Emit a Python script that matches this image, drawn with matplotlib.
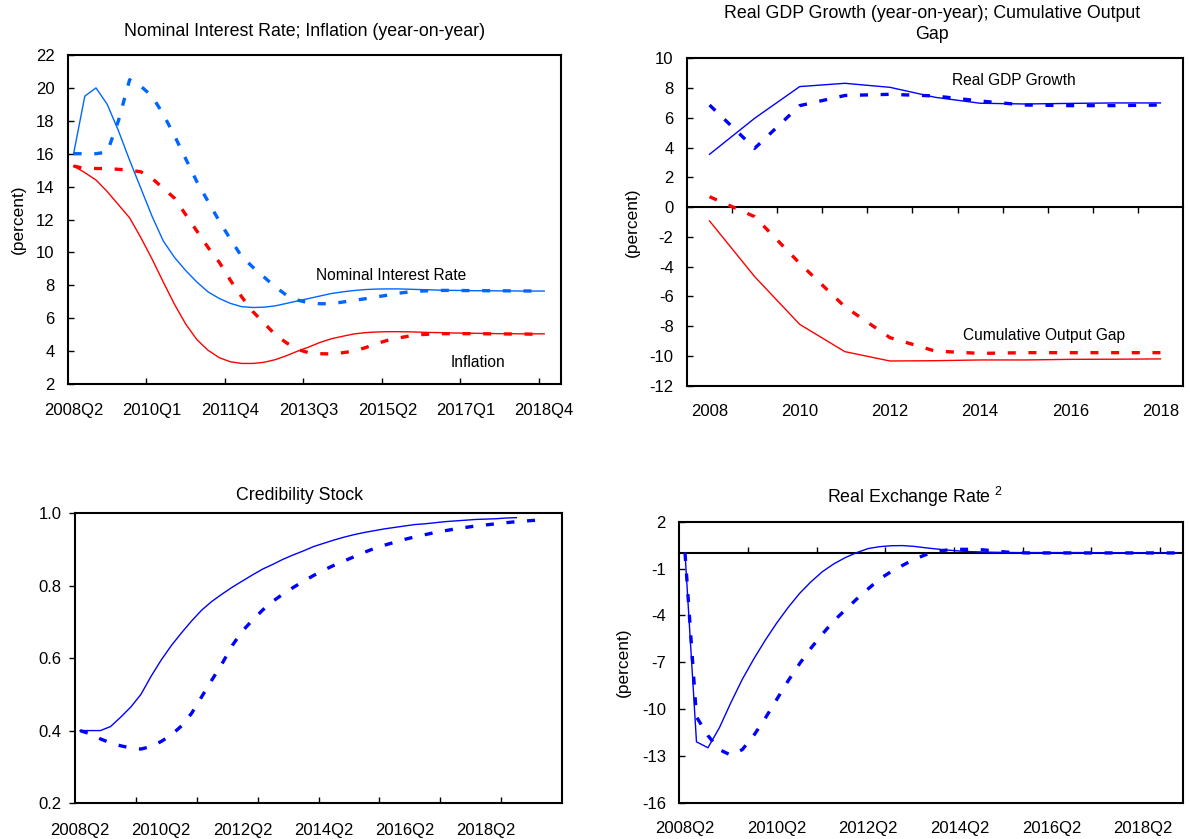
import numpy as np
import matplotlib
matplotlib.use('Agg')
import matplotlib.pyplot as plt
from matplotlib.ticker import NullFormatter, FormatStrFormatter

plt.rcParams['font.family'] = ['Liberation Sans', 'DejaVu Sans']
plt.rcParams['mathtext.default'] = 'regular'
plt.rcParams['axes.unicode_minus'] = False
plt.rcParams['font.size'] = 12

# --- top left: nominal interest rate / inflation (quarterly, 2008Q2-2018Q4)
tl_labels = ['2008Q2', '2010Q1', '2011Q4', '2013Q3', '2015Q2', '2017Q1', '2018Q4']
nir_base = [16.0, 19.5, 20.0, 19.0, 17.4, 15.6, 13.9, 12.2, 10.7, 9.7, 8.9, 8.2, 7.6, 7.2, 6.9,
            6.7, 6.65, 6.67, 6.75, 6.9, 7.05, 7.2, 7.35, 7.5, 7.6, 7.68, 7.74, 7.77, 7.78, 7.78,
            7.76, 7.74, 7.72, 7.7, 7.69, 7.68, 7.67, 7.67, 7.66, 7.66, 7.65, 7.65, 7.65]
nir_alt = [16.0, 16.0, 16.0, 16.1, 18.0, 20.5, 20.1, 19.5, 18.4, 17.1, 15.7, 14.3, 13.1, 11.9, 10.8,
           9.75, 9.1, 8.5, 7.9, 7.4, 7.1, 6.93, 6.88, 6.88, 6.98, 7.08, 7.18, 7.29, 7.4, 7.52,
           7.6, 7.65, 7.68, 7.69, 7.69, 7.68, 7.68, 7.67, 7.67, 7.66, 7.66, 7.65, 7.65]
inf_base = [15.25, 14.85, 14.4, 13.7, 12.9, 12.1, 10.9, 9.6, 8.2, 6.85, 5.65, 4.7, 4.05, 3.6, 3.35,
            3.25, 3.25, 3.32, 3.48, 3.72, 4.0, 4.25, 4.53, 4.75, 4.9, 5.04, 5.12, 5.16, 5.18, 5.18,
            5.17, 5.15, 5.13, 5.12, 5.1, 5.09, 5.08, 5.07, 5.06, 5.06, 5.05, 5.05, 5.05]
inf_alt = [15.25, 15.1, 15.1, 15.1, 15.05, 15.0, 14.9, 14.5, 13.9, 13.3, 12.3, 11.3, 10.3, 9.4, 8.3,
           7.3, 6.4, 5.7, 5.0, 4.5, 4.1, 3.9, 3.84, 3.83, 3.9, 4.0, 4.2, 4.45, 4.65, 4.8,
           4.92, 5.0, 5.04, 5.06, 5.06, 5.06, 5.06, 5.05, 5.05, 5.04, 5.04, 5.03, 5.03]

# --- top right: real GDP growth / cumulative output gap (annual)
years = [2008, 2009, 2010, 2011, 2012, 2013, 2014, 2015, 2016, 2017, 2018]
gdp_base = [3.55, 5.97, 8.1, 8.32, 8.05, 7.38, 6.98, 6.93, 6.97, 7.0, 7.0]
gdp_alt = [6.86, 3.95, 6.82, 7.5, 7.58, 7.47, 7.13, 6.86, 6.82, 6.82, 6.86]
gap_base = [-0.93, -4.67, -7.88, -9.71, -10.34, -10.32, -10.27, -10.27, -10.23, -10.22, -10.2]
gap_alt = [0.7, -0.64, -3.78, -6.69, -8.77, -9.67, -9.83, -9.78, -9.78, -9.78, -9.78]

# --- bottom left: credibility stock (quarterly from 2008Q2)
bot_labels = ['2008Q2', '2010Q2', '2012Q2', '2014Q2', '2016Q2', '2018Q2']
cred_base = [0.40, 0.40, 0.40, 0.411, 0.437, 0.465, 0.50, 0.55, 0.595, 0.635, 0.67, 0.703, 0.733,
             0.757, 0.777, 0.796, 0.813, 0.83, 0.846, 0.859, 0.873, 0.885, 0.896, 0.908, 0.917,
             0.926, 0.934, 0.941, 0.947, 0.952, 0.957, 0.961, 0.965, 0.969, 0.971, 0.974, 0.977,
             0.979, 0.981, 0.983, 0.984, 0.985, 0.987, 0.988]
cred_alt = [0.40, 0.391, 0.377, 0.366, 0.358, 0.352, 0.349, 0.356, 0.37, 0.388, 0.413, 0.448, 0.494,
            0.54, 0.585, 0.635, 0.675, 0.705, 0.733, 0.757, 0.777, 0.795, 0.812, 0.828, 0.843,
            0.856, 0.868, 0.880, 0.892, 0.903, 0.912, 0.92, 0.928, 0.935, 0.941, 0.947, 0.952,
            0.957, 0.961, 0.965, 0.968, 0.971, 0.974, 0.977, 0.979, 0.981, 0.983]

# --- bottom right: real exchange rate (quarterly from 2008Q2)
rer_base = [0.0, -12.1, -12.48, -11.2, -9.6, -8.1, -6.8, -5.6, -4.5, -3.5, -2.6, -1.85, -1.2,
            -0.7, -0.3, 0.02, 0.28, 0.4, 0.46, 0.47, 0.42, 0.33, 0.25, 0.18, 0.12, 0.08, 0.06,
            0.04, 0.03, 0.02, 0.02, 0.02, 0.02, 0.02, 0.02, 0.02, 0.01, 0.01, 0.01, 0.01, 0.01,
            0.0, 0.0, 0.0]
rer_alt = [0.0, -10.5, -11.7, -12.6, -12.95, -12.6, -11.7, -10.6, -9.4, -8.2, -7.1, -6.1, -5.2,
           -4.35, -3.65, -2.95, -2.3, -1.67, -1.2, -0.8, -0.41, -0.12, 0.1, 0.2, 0.23, 0.23, 0.2,
           0.13, 0.06, 0.02, 0.0, 0.0, 0.0, 0.0, 0.0, 0.0, 0.0, 0.0, 0.0, 0.0, 0.0, 0.0, 0.0, 0.0]

BLUE = '#0000FF'
LBLUE = '#0066FF'
RED = '#FF0000'
DASH = (0, (2.4, 3.8))
W, H = 1190, 839
TITLE_FS = 12.8
NOTE_FS = 11.2

fig = plt.figure(figsize=(W / 100, H / 100), dpi=100)


def px(x, y):
    return x / W, 1 - y / H


def box(x0, y0, x1, y1):
    # axes rectangle from pixel corners
    return [x0 / W, 1 - y1 / H, (x1 - x0) / W, (y1 - y0) / H]


def frame(ax, ydir='in', xpad=13.5):
    for s in ax.spines.values():
        s.set_linewidth(1.5)
    ax.tick_params(axis='y', direction=ydir, length=4, width=1,
                   pad=9.7 if ydir == 'in' else 5.7)
    ax.tick_params(axis='x', which='major', length=0, pad=xpad)
    ax.tick_params(axis='x', which='minor', direction='in', length=4, width=1)


def zero_axis(ax, frac, ticks, direction):
    sec = ax.secondary_xaxis(frac)
    sec.set_xticks(ticks)
    sec.xaxis.set_major_formatter(NullFormatter())
    sec.tick_params(direction=direction, length=4, width=1)
    for s in sec.spines.values():
        s.set_linewidth(1.5)


# top left
ax1 = fig.add_axes(box(68, 55, 561, 384))
x1 = np.arange(len(nir_base))
ax1.plot(x1, nir_base, color=LBLUE, lw=1)
ax1.plot(x1, nir_alt, color=LBLUE, lw=2.4, ls=DASH)
ax1.plot(x1, inf_base, color=RED, lw=1)
ax1.plot(x1, inf_alt, color=RED, lw=2.4, ls=DASH)
ax1.set_xlim(-0.5, 43.5)
ax1.set_ylim(2, 22)
ax1.set_yticks(np.arange(2, 23, 2))
ax1.set_xticks(np.arange(0, 43, 7), tl_labels)
ax1.set_xticks(np.arange(6.5, 42, 7), minor=True)
frame(ax1)
ax1.set_ylabel('(percent)', fontsize=12.5)
ax1.yaxis.set_label_coords(-0.085, 0.5)
ax1.text(28.3, 8.57, 'Nominal Interest Rate', ha='center', va='center', fontsize=NOTE_FS)
ax1.text(36.1, 3.28, 'Inflation', ha='center', va='center', fontsize=NOTE_FS)
fig.text(*px(305, 31), 'Nominal Interest Rate; Inflation (year-on-year)',
         ha='center', va='center', fontsize=TITLE_FS)

# top right
ax2 = fig.add_axes(box(687, 58.3, 1183, 385.7))
ax2.plot(years, gdp_base, color=BLUE, lw=1)
ax2.plot(years, gdp_alt, color=BLUE, lw=2.4, ls=DASH)
ax2.plot(years, gap_base, color=RED, lw=1)
ax2.plot(years, gap_alt, color=RED, lw=2.4, ls=DASH)
ax2.set_xlim(2007.5, 2018.5)
ax2.set_ylim(-12, 10)
ax2.set_yticks(np.arange(-12, 11, 2))
ax2.set_xticks(years[::2])
frame(ax2)
zero_axis(ax2, 12 / 22, np.arange(2008.5, 2018, 1), 'in')
ax2.set_ylabel('(percent)', fontsize=12.5)
ax2.yaxis.set_label_coords(-0.095, 0.5)
ax2.text(2014.76, 8.49, 'Real GDP Growth', ha='center', va='center', fontsize=NOTE_FS)
ax2.text(2015.41, -8.6, 'Cumulative Output Gap', ha='center', va='center', fontsize=NOTE_FS)
fig.text(*px(932, 24), 'Real GDP Growth (year-on-year); Cumulative Output\nGap',
         ha='center', va='center', multialignment='center', linespacing=1.3, fontsize=TITLE_FS)

# bottom left
ax3 = fig.add_axes(box(75, 513.3, 562, 803))
ax3.plot(np.arange(len(cred_base)), cred_base, color=BLUE, lw=1)
ax3.plot(np.arange(len(cred_alt)), cred_alt, color=BLUE, lw=2.4, ls=DASH)
ax3.set_xlim(-0.5, 47.5)
ax3.set_ylim(0.2, 1.0)
ax3.set_yticks(np.arange(0.2, 1.01, 0.2))
ax3.yaxis.set_major_formatter(FormatStrFormatter('%.1f'))
ax3.set_xticks(np.arange(0, 41, 8), bot_labels)
ax3.set_xticks(np.arange(5.5, 42, 6), minor=True)
frame(ax3, ydir='out', xpad=14.5)
fig.text(*px(300, 496), 'Credibility Stock', ha='center', va='center', fontsize=TITLE_FS)

# bottom right
ax4 = fig.add_axes(box(679.3, 521.7, 1183, 802.7))
x4 = np.arange(len(rer_base))
ax4.plot(x4, rer_base, color=BLUE, lw=1)
ax4.plot(x4, rer_alt, color=BLUE, lw=2.4, ls=DASH)
ax4.set_xlim(-0.5, 43.5)
ax4.set_ylim(-16, 2)
ax4.set_yticks(np.arange(-16, 3, 3))
ax4.set_xticks(np.arange(0, 41, 8), bot_labels)
frame(ax4)
zero_axis(ax4, 16 / 18, np.arange(5.5, 42, 6), 'out')
ax4.set_ylabel('(percent)', fontsize=12.5)
ax4.yaxis.set_label_coords(-0.097, 0.5)
fig.text(*px(915, 497), 'Real Exchange Rate $^{2}$', ha='center', va='center', fontsize=TITLE_FS)

fig.savefig('out.png', dpi=100)
